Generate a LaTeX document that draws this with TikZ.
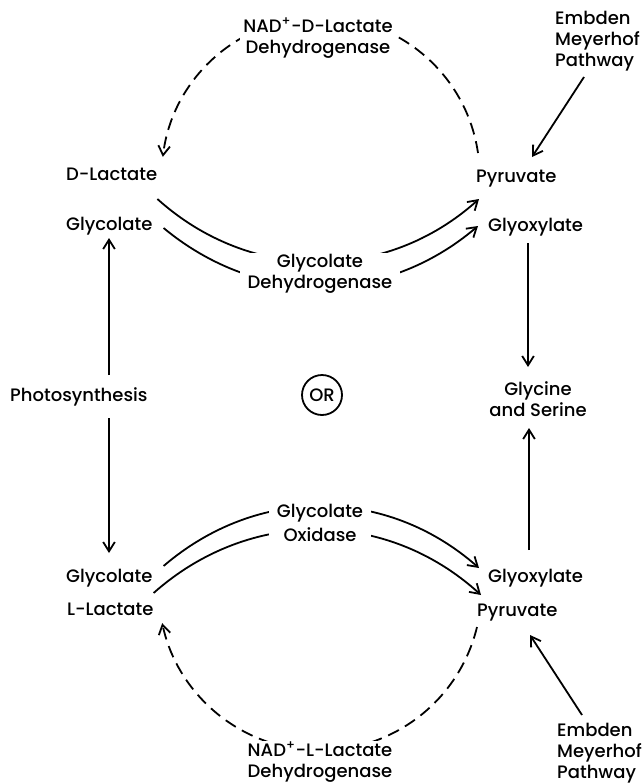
\documentclass[tikz,border=0pt]{standalone}
\usepackage{fontspec}
\setmainfont{Poppins}[UprightFont=* Medium]
\usetikzlibrary{arrows.meta,calc}
\begin{document}
\begin{tikzpicture}[x=1pt,y=-1pt,
  txt/.style={font=\fontsize{18}{21}\selectfont},
  lbl/.style={txt, inner sep=0pt, anchor=base west},
  clbl/.style={txt, align=center, fill=white, inner xsep=8pt, inner ysep=1pt},
  arr/.style={line width=1.8pt, -{Straight Barb[angle=64:11pt, line width=1.8pt]}},
  darr/.style={arr, dash pattern=on 12pt off 7pt}]
\useasboundingbox (0,0) rectangle (642,784);
% metabolites
\node[lbl] (dlac) at (66,180) {D-Lactate};
\node[lbl] (glyc1) at (66,230) {Glycolate};
\node[lbl] (pyr1) at (476,182) {Pyruvate};
\node[lbl] (glyox1) at (488,231) {Glyoxylate};
\node[lbl] (photo) at (10,401) {Photosynthesis};
\node[lbl] (glyc2) at (66,582) {Glycolate};
\node[lbl] (llac) at (67,615) {L-Lactate};
\node[lbl] (glyox2) at (488,582) {Glyoxylate};
\node[lbl] (pyr2) at (477,616) {Pyruvate};
\node[txt, align=center, inner sep=0pt] (gly) at (538,399) {Glycine\\and Serine};
\node[txt, draw, circle, line width=1.8pt, minimum size=40pt, inner sep=0pt] (or) at (322,395) {OR};
\node[txt, align=left, inner sep=0pt, anchor=north west] (emb1) at (555,11) {Embden\\Meyerhof\\Pathway};
\node[txt, align=left, inner sep=0pt, anchor=north west] (emb2) at (557,723) {Embden\\Meyerhof\\Pathway};
% solid arcs
\draw[arr] ([shift={(0,19)}]dlac.base east) to[bend right=42] ([shift={(3,17)}]pyr1.base west);
\draw[arr] ([shift={(11,-2)}]glyc1.base east) to[bend right=40] ([shift={(-10,-5)}]glyox1.base west);
\draw[arr] ([shift={(11,-16)}]glyc2.base east) to[bend left=41] ([shift={(-9,-14)}]glyox2.base west);
\draw[arr] ([shift={(0,-22)}]llac.base east) to[bend left=42] ([shift={(4,-21)}]pyr2.base west);
% dashed arcs
\draw[darr] ([shift={(2,-29)}]pyr1.base west) arc[start angle=-8.3, end angle=-173.1, radius=159];
\draw[darr] ([shift={(0,11)}]pyr2.base west) arc[start angle=13.6, end angle=167.8, radius=161.5];
% verticals
\draw[arr] ([shift={(99,-26)}]photo.base west) -- ([shift={(43,8)}]glyc1.base west);
\draw[arr] ([shift={(99,17)}]photo.base west) -- ([shift={(43,-29)}]glyc2.base west);
\draw[arr] ([shift={(40,12)}]glyox1.base west) -- ([shift={(40,136)}]glyox1.base west);
\draw[arr] ([shift={(41,-32)}]glyox2.base west) -- ([shift={(41,-154)}]glyox2.base west);
% Embden arrows
\draw[arr] ([shift={(108,-105)}]pyr1.base west) -- ([shift={(56,-25)}]pyr1.base west);
\draw[arr] ([shift={(105,99)}]pyr2.base west) -- ([shift={(53,19)}]pyr2.base west);
% enzyme labels
\node[clbl, inner xsep=3pt, inner ysep=6pt] (nadd) at (318,38) {NAD\textsuperscript{+}-D-Lactate\\Dehydrogenase};
\node[clbl] (gdh) at (320,274) {Glycolate\\Dehydrogenase};
\node[clbl] (gox) at (320,523) {Glycolate\\[3pt]Oxidase};
\node[clbl, inner xsep=3pt] (nadl) at (320,762) {NAD\textsuperscript{+}-L-Lactate\\Dehydrogenase};
\end{tikzpicture}
\end{document}
